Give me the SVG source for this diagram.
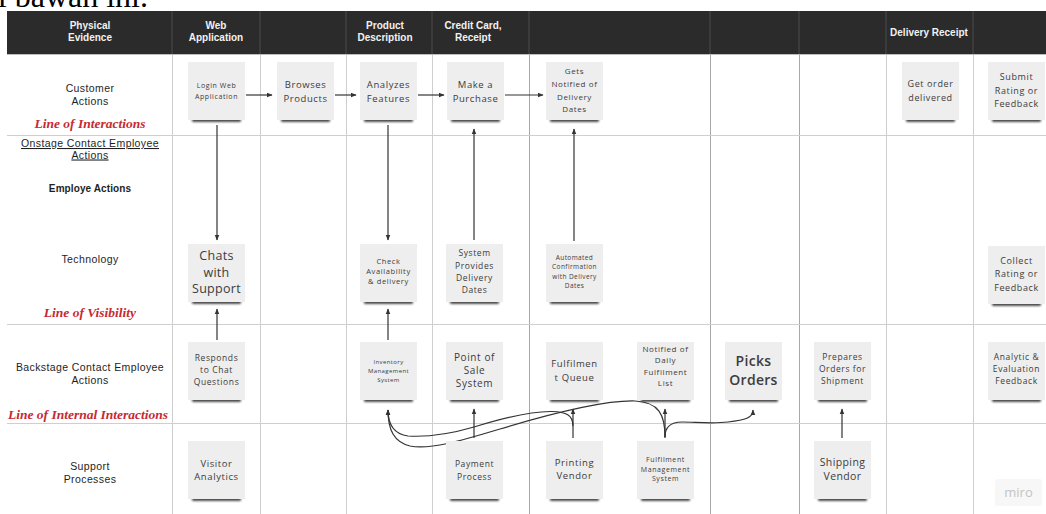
<svg xmlns="http://www.w3.org/2000/svg" width="1046" height="514" viewBox="0 0 1046 514">
<style>
.hd{font-family:"Liberation Sans",Arial,sans-serif;font-weight:bold;font-size:10px;fill:#f2f2f2;text-anchor:middle}
.lb{font-family:"Liberation Sans",Arial,sans-serif;font-size:10.5px;fill:#1e1e1e;text-anchor:middle;letter-spacing:0.4px}
.ln{font-family:"Liberation Serif",serif;font-style:italic;font-weight:bold;font-size:13.5px;fill:#c62a32;text-anchor:middle}
.nt{font-family:"Open Sans",sans-serif;fill:#3c3c3c;text-anchor:middle;letter-spacing:0.6px;font-weight:500}
.gv{stroke:#cfcfcf;stroke-width:1}
.gd{stroke:#a8a8a8;stroke-width:1}
.gh{stroke:#cfcfcf;stroke-width:1}
.hs{stroke:#4c4c4c;stroke-width:1}
.cn{fill:none;stroke:#333;stroke-width:1.2}
.nb{fill:#eeeeee}
.ns{fill:#2e2e2e}
</style>
<defs>
<filter id="blur" x="-20%" y="-200%" width="140%" height="500%"><feGaussianBlur stdDeviation="1.1"/></filter>
<marker id="ah" viewBox="0 0 10 10" refX="9" refY="5" markerWidth="6" markerHeight="6" markerUnits="userSpaceOnUse" orient="auto"><path d="M0,1 L10,5 L0,9 Z" fill="#333"/></marker>
<g id="note"><rect class="ns" x="4" y="56.5" width="49" height="3.2" rx="1.5" filter="url(#blur)"/><rect class="nb" width="57" height="58"/></g>
</defs>
<rect width="1046" height="514" fill="#ffffff"/>
<text x="148" y="7" font-family="'Liberation Serif',serif" font-size="32" text-anchor="end" fill="#000">di bawah ini.</text>

<g id="grid">
<rect x="7" y="11" width="1039" height="43" fill="#2b2b2b"/>
<line x1="7" y1="54.5" x2="1046" y2="54.5" stroke="#bdbdbd"/>
<g class="hs">
<line x1="172" y1="11" x2="172" y2="54"/><line x1="260" y1="11" x2="260" y2="54"/><line x1="346" y1="11" x2="346" y2="54"/><line x1="432" y1="11" x2="432" y2="54"/><line x1="529" y1="11" x2="529" y2="54"/><line x1="710" y1="11" x2="710" y2="54"/><line x1="799" y1="11" x2="799" y2="54"/><line x1="886" y1="11" x2="886" y2="54"/><line x1="973" y1="11" x2="973" y2="54"/>
</g>
<g class="gv">
<line x1="172.5" y1="55" x2="172.5" y2="514"/><line x1="260.5" y1="55" x2="260.5" y2="514"/><line x1="346.5" y1="55" x2="346.5" y2="514"/><line x1="432.5" y1="55" x2="432.5" y2="514"/><line x1="886.5" y1="55" x2="886.5" y2="514"/><line x1="973.5" y1="55" x2="973.5" y2="514"/>
</g>
<g class="gd">
<line x1="529.5" y1="55" x2="529.5" y2="514"/><line x1="710.5" y1="55" x2="710.5" y2="514"/><line x1="799.5" y1="55" x2="799.5" y2="514"/>
</g>
<g class="gh">
<line x1="7" y1="135.5" x2="1046" y2="135.5"/><line x1="7" y1="324.5" x2="1046" y2="324.5"/><line x1="7" y1="423.5" x2="1046" y2="423.5"/>
</g>
</g>

<g id="header">
<text class="hd" x="90" y="29">Physical</text><text class="hd" x="90" y="41">Evidence</text>
<text class="hd" x="216" y="29">Web</text><text class="hd" x="216" y="41">Application</text>
<text class="hd" x="385" y="29">Product</text><text class="hd" x="385" y="41">Description</text>
<text class="hd" x="473" y="29">Credit Card,</text><text class="hd" x="473" y="41">Receipt</text>
<text class="hd" x="929" y="36">Delivery Receipt</text>
</g>

<g id="row-labels">
<text class="lb" x="90" y="92">Customer</text><text class="lb" x="90" y="104.5">Actions</text>
<text class="ln" x="90" y="127.5">Line of Interactions</text>
<text class="lb" x="90" y="147" text-decoration="underline">Onstage Contact Employee</text><text class="lb" x="90" y="158.5" text-decoration="underline">Actions</text>
<text class="lb" x="90" y="192" style="font-weight:bold;letter-spacing:0.1px;font-size:10px">Employe Actions</text>
<text class="lb" x="90" y="263">Technology</text>
<text class="ln" x="90" y="317">Line of Visibility</text>
<text class="lb" x="90" y="370.7">Backstage Contact Employee</text><text class="lb" x="90" y="383.7">Actions</text>
<text class="ln" x="88" y="418.5">Line of Internal Interactions</text>
<text class="lb" x="90" y="469.7">Support</text><text class="lb" x="90" y="482.7">Processes</text>
</g>

<g id="connectors">
<line class="cn" x1="246" y1="95" x2="272" y2="95" marker-end="url(#ah)"/>
<line class="cn" x1="335" y1="95" x2="356" y2="95" marker-end="url(#ah)"/>
<line class="cn" x1="418" y1="95" x2="444" y2="95" marker-end="url(#ah)"/>
<line class="cn" x1="505" y1="95" x2="543" y2="95" marker-end="url(#ah)"/>
<line class="cn" x1="217" y1="125" x2="217" y2="240" marker-end="url(#ah)"/>
<line class="cn" x1="388" y1="125" x2="388" y2="240" marker-end="url(#ah)"/>
<line class="cn" x1="474" y1="240" x2="474" y2="129" marker-end="url(#ah)"/>
<line class="cn" x1="574" y1="241" x2="574" y2="129" marker-end="url(#ah)"/>
<line class="cn" x1="217" y1="340" x2="217" y2="309" marker-end="url(#ah)"/>
<line class="cn" x1="388" y1="340" x2="388" y2="309" marker-end="url(#ah)"/>
<line class="cn" x1="474" y1="438" x2="474" y2="409" marker-end="url(#ah)"/>
<line class="cn" x1="842" y1="438" x2="842" y2="409" marker-end="url(#ah)"/>
<line class="cn" x1="665" y1="438" x2="665" y2="409" marker-end="url(#ah)"/>
<line class="cn" x1="573" y1="438" x2="573" y2="409" marker-end="url(#ah)"/>
<path class="cn" d="M573,426 C573,415 566,412 552,411.5 C530,411 500,419 474,427 C450,434 425,437 408,436 C394,434 388,425 388,410" marker-end="url(#ah)"/>
<path class="cn" d="M665,437 C665,415 659,402 635,401 C600,400 540,417 500,429 C460,441 430,450 410,446 C394,442 388,430 388,410" marker-end="url(#ah)"/>
<path class="cn" d="M665,437 C665,426 672,422 682,422 C695,422 712,424 728,422 C745,420 753,418 753,410" marker-end="url(#ah)"/>
</g>

<g id="n-login"><use href="#note" x="188" y="62"/><text class="nt" font-size="7" x="216.5" y="88">Login Web</text><text class="nt" font-size="7" x="216.5" y="98.5">Application</text></g>
<g id="n-browses"><use href="#note" x="277" y="62"/><text class="nt" font-size="9.5" x="305.5" y="88">Browses</text><text class="nt" font-size="9.5" x="305.5" y="101.6">Products</text></g>
<g id="n-analyzes"><use href="#note" x="360" y="62"/><text class="nt" font-size="9.5" x="388.5" y="88">Analyzes</text><text class="nt" font-size="9.5" x="388.5" y="101.6">Features</text></g>
<g id="n-purchase"><use href="#note" x="447" y="62"/><text class="nt" font-size="9.5" x="475.5" y="88">Make a</text><text class="nt" font-size="9.5" x="475.5" y="101.6">Purchase</text></g>
<g id="n-gets"><use href="#note" x="546" y="62"/><text class="nt" font-size="8" x="574.5" y="73.8">Gets</text><text class="nt" font-size="8" x="574.5" y="86.8">Notified of</text><text class="nt" font-size="8" x="574.5" y="99.8">Delivery</text><text class="nt" font-size="8" x="574.5" y="111.8">Dates</text></g>
<g id="n-getorder"><use href="#note" x="902" y="62"/><text class="nt" font-size="9" x="930.5" y="87">Get order</text><text class="nt" font-size="9" x="930.5" y="101">delivered</text></g>
<g id="n-submit"><use href="#note" x="988" y="62"/><text class="nt" font-size="9" x="1016.5" y="80">Submit</text><text class="nt" font-size="9" x="1016.5" y="93.5">Rating or</text><text class="nt" font-size="9" x="1016.5" y="107">Feedback</text></g>

<g id="n-chats"><use href="#note" x="188" y="244"/><text class="nt" font-size="12.5" x="216.5" y="260.4" style="letter-spacing:0.3px">Chats</text><text class="nt" font-size="12.5" x="216.5" y="277.4" style="letter-spacing:0.3px">with</text><text class="nt" font-size="12.5" x="216.5" y="293.4" style="letter-spacing:0.3px">Support</text></g>
<g id="n-check"><use href="#note" x="360" y="244"/><text class="nt" font-size="7.5" x="388.5" y="263.6">Check</text><text class="nt" font-size="7.5" x="388.5" y="274">Availability</text><text class="nt" font-size="7.5" x="388.5" y="284">&amp; delivery</text></g>
<g id="n-system"><use href="#note" x="446" y="244"/><text class="nt" font-size="8.5" x="474.5" y="256">System</text><text class="nt" font-size="8.5" x="474.5" y="268.5">Provides</text><text class="nt" font-size="8.5" x="474.5" y="281">Delivery</text><text class="nt" font-size="8.5" x="474.5" y="293">Dates</text></g>
<g id="n-automated"><use href="#note" x="546" y="244"/><text class="nt" font-size="6.5" x="574.5" y="260.3" style="letter-spacing:0.4px">Automated</text><text class="nt" font-size="6.5" x="574.5" y="269.3" style="letter-spacing:0.4px">Confirmation</text><text class="nt" font-size="6.5" x="574.5" y="278.8" style="letter-spacing:0.4px">with Delivery</text><text class="nt" font-size="6.5" x="574.5" y="287.8" style="letter-spacing:0.4px">Dates</text></g>
<g id="n-collect"><use href="#note" x="988" y="246"/><text class="nt" font-size="9" x="1016.5" y="264">Collect</text><text class="nt" font-size="9" x="1016.5" y="277">Rating or</text><text class="nt" font-size="9" x="1016.5" y="290.5">Feedback</text></g>

<g id="n-responds"><use href="#note" x="188" y="342"/><text class="nt" font-size="8.5" x="216.5" y="361">Responds</text><text class="nt" font-size="8.5" x="216.5" y="373">to Chat</text><text class="nt" font-size="8.5" x="216.5" y="385">Questions</text></g>
<g id="n-inventory"><use href="#note" x="360" y="342"/><text class="nt" font-size="6" x="388.5" y="364" style="letter-spacing:0.4px">Inventory</text><text class="nt" font-size="6" x="388.5" y="373" style="letter-spacing:0.4px">Management</text><text class="nt" font-size="6" x="388.5" y="382" style="letter-spacing:0.4px">System</text></g>
<g id="n-pos"><use href="#note" x="446" y="342"/><text class="nt" font-size="10" x="474.5" y="360.5">Point of</text><text class="nt" font-size="10" x="474.5" y="373.5">Sale</text><text class="nt" font-size="10" x="474.5" y="386.5">System</text></g>
<g id="n-queue"><use href="#note" x="546" y="342"/><text class="nt" font-size="9.5" x="574.5" y="367.3">Fulfilmen</text><text class="nt" font-size="9.5" x="574.5" y="381.3">t Queue</text></g>
<g id="n-notified"><use href="#note" x="637" y="342"/><text class="nt" font-size="8" x="665.5" y="351.8">Notified of</text><text class="nt" font-size="8" x="665.5" y="363.3">Daily</text><text class="nt" font-size="8" x="665.5" y="374.8">Fulfilment</text><text class="nt" font-size="8" x="665.5" y="386.3">List</text></g>
<g id="n-picks"><use href="#note" x="725" y="342"/><text class="nt" font-size="14" x="753.5" y="366" style="letter-spacing:0.3px;font-weight:600">Picks</text><text class="nt" font-size="14" x="753.5" y="385" style="letter-spacing:0.3px;font-weight:600">Orders</text></g>
<g id="n-prepares"><use href="#note" x="814" y="342"/><text class="nt" font-size="8.5" x="842.5" y="360">Prepares</text><text class="nt" font-size="8.5" x="842.5" y="372">Orders for</text><text class="nt" font-size="8.5" x="842.5" y="384">Shipment</text></g>
<g id="n-analytic"><use href="#note" x="988" y="342"/><text class="nt" font-size="8.5" x="1016.5" y="360">Analytic &amp;</text><text class="nt" font-size="8.5" x="1016.5" y="372">Evaluation</text><text class="nt" font-size="8.5" x="1016.5" y="384">Feedback</text></g>

<g id="n-visitor"><use href="#note" x="188" y="441"/><text class="nt" font-size="9.5" x="216.5" y="466.8">Visitor</text><text class="nt" font-size="9.5" x="216.5" y="480.3">Analytics</text></g>
<g id="n-payment"><use href="#note" x="446" y="441"/><text class="nt" font-size="8.5" x="474.5" y="467">Payment</text><text class="nt" font-size="8.5" x="474.5" y="480">Process</text></g>
<g id="n-printing"><use href="#note" x="546" y="441"/><text class="nt" font-size="9.5" x="574.5" y="465.8">Printing</text><text class="nt" font-size="9.5" x="574.5" y="478.8">Vendor</text></g>
<g id="n-fms"><use href="#note" x="637" y="441"/><text class="nt" font-size="7" x="665.5" y="461.5">Fulfilment</text><text class="nt" font-size="7" x="665.5" y="471.5">Management</text><text class="nt" font-size="7" x="665.5" y="481">System</text></g>
<g id="n-shipping"><use href="#note" x="814" y="441"/><text class="nt" font-size="10.5" x="842.5" y="466.2" style="letter-spacing:0.4px">Shipping</text><text class="nt" font-size="10.5" x="842.5" y="479.7" style="letter-spacing:0.4px">Vendor</text></g>

<g id="watermark"><rect x="995" y="479" width="47" height="27" rx="2" fill="#f7f7f7"/><text x="1018.5" y="497" font-family="'Open Sans',sans-serif" font-size="13" fill="#c4c4c4" text-anchor="middle">miro</text></g>
</svg>
